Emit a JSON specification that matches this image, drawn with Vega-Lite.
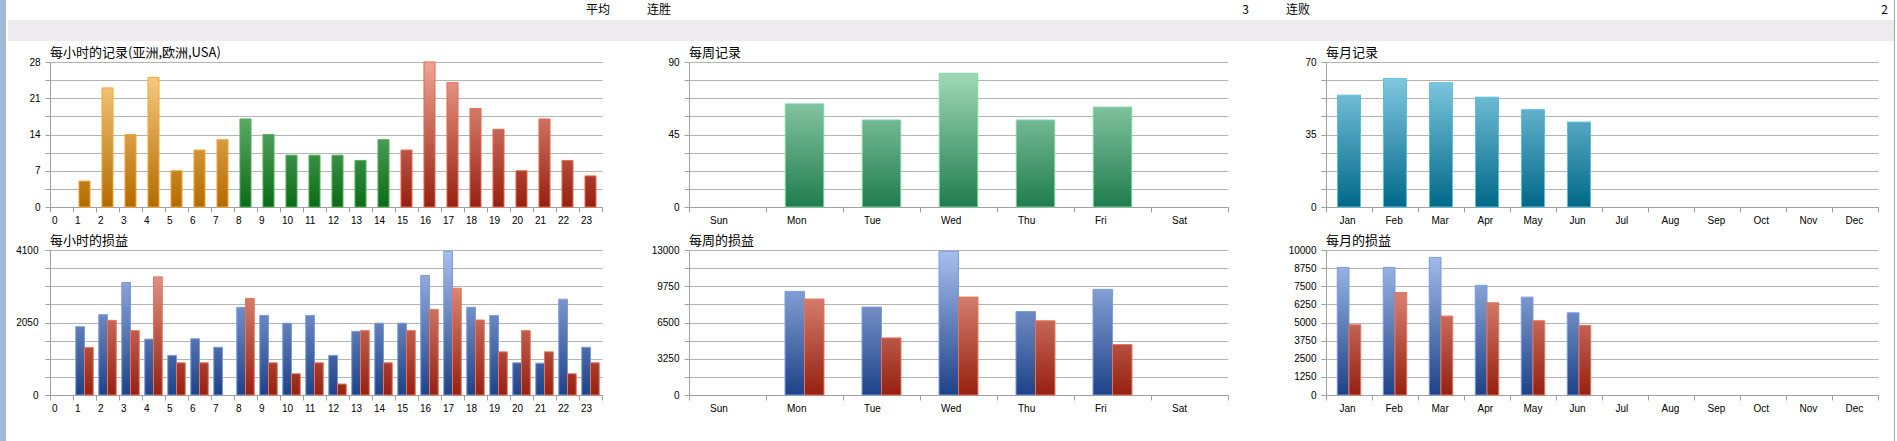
{
  "$schema": "https://vega.github.io/schema/vega-lite/v6.json",
  "padding": 0,
  "background": "#ffffff",
  "datasets": {
    "summary": [
      {"col": "c1", "key": "", "value": "平均"},
      {"col": "c2", "key": "连胜", "value": "3"},
      {"col": "c3", "key": "连败", "value": "2"}
    ],
    "hourly": [
      {"hour": 1, "region": "亚洲", "n": 5},
      {"hour": 2, "region": "亚洲", "n": 23},
      {"hour": 3, "region": "亚洲", "n": 14},
      {"hour": 4, "region": "亚洲", "n": 25},
      {"hour": 5, "region": "亚洲", "n": 7},
      {"hour": 6, "region": "亚洲", "n": 11},
      {"hour": 7, "region": "亚洲", "n": 13},
      {"hour": 8, "region": "欧洲", "n": 17},
      {"hour": 9, "region": "欧洲", "n": 14},
      {"hour": 10, "region": "欧洲", "n": 10},
      {"hour": 11, "region": "欧洲", "n": 10},
      {"hour": 12, "region": "欧洲", "n": 10},
      {"hour": 13, "region": "欧洲", "n": 9},
      {"hour": 14, "region": "欧洲", "n": 13},
      {"hour": 15, "region": "USA", "n": 11},
      {"hour": 16, "region": "USA", "n": 28},
      {"hour": 17, "region": "USA", "n": 24},
      {"hour": 18, "region": "USA", "n": 19},
      {"hour": 19, "region": "USA", "n": 15},
      {"hour": 20, "region": "USA", "n": 7},
      {"hour": 21, "region": "USA", "n": 17},
      {"hour": 22, "region": "USA", "n": 9},
      {"hour": 23, "region": "USA", "n": 6}
    ],
    "hourly_pl": [
      {"hour": 1, "series": "profit", "v": 1930}, {"hour": 1, "series": "loss", "v": 1340},
      {"hour": 2, "series": "profit", "v": 2270}, {"hour": 2, "series": "loss", "v": 2110},
      {"hour": 3, "series": "profit", "v": 3180}, {"hour": 3, "series": "loss", "v": 1820},
      {"hour": 4, "series": "profit", "v": 1580}, {"hour": 4, "series": "loss", "v": 3340},
      {"hour": 5, "series": "profit", "v": 1120}, {"hour": 5, "series": "loss", "v": 910},
      {"hour": 6, "series": "profit", "v": 1590}, {"hour": 6, "series": "loss", "v": 910},
      {"hour": 7, "series": "profit", "v": 1350},
      {"hour": 8, "series": "profit", "v": 2480}, {"hour": 8, "series": "loss", "v": 2730},
      {"hour": 9, "series": "profit", "v": 2250}, {"hour": 9, "series": "loss", "v": 910},
      {"hour": 10, "series": "profit", "v": 2030}, {"hour": 10, "series": "loss", "v": 600},
      {"hour": 11, "series": "profit", "v": 2250}, {"hour": 11, "series": "loss", "v": 910},
      {"hour": 12, "series": "profit", "v": 1120}, {"hour": 12, "series": "loss", "v": 310},
      {"hour": 13, "series": "profit", "v": 1800}, {"hour": 13, "series": "loss", "v": 1820},
      {"hour": 14, "series": "profit", "v": 2030}, {"hour": 14, "series": "loss", "v": 910},
      {"hour": 15, "series": "profit", "v": 2030}, {"hour": 15, "series": "loss", "v": 1820},
      {"hour": 16, "series": "profit", "v": 3380}, {"hour": 16, "series": "loss", "v": 2420},
      {"hour": 17, "series": "profit", "v": 4060}, {"hour": 17, "series": "loss", "v": 3020},
      {"hour": 18, "series": "profit", "v": 2480}, {"hour": 18, "series": "loss", "v": 2120},
      {"hour": 19, "series": "profit", "v": 2250}, {"hour": 19, "series": "loss", "v": 1220},
      {"hour": 20, "series": "profit", "v": 910}, {"hour": 20, "series": "loss", "v": 1820},
      {"hour": 21, "series": "profit", "v": 900}, {"hour": 21, "series": "loss", "v": 1220},
      {"hour": 22, "series": "profit", "v": 2710}, {"hour": 22, "series": "loss", "v": 600},
      {"hour": 23, "series": "profit", "v": 1350}, {"hour": 23, "series": "loss", "v": 910}
    ],
    "weekly": [
      {"day": "Mon", "n": 64},
      {"day": "Tue", "n": 54},
      {"day": "Wed", "n": 83},
      {"day": "Thu", "n": 54},
      {"day": "Fri", "n": 62}
    ],
    "weekly_pl": [
      {"day": "Mon", "series": "profit", "v": 9290}, {"day": "Mon", "series": "loss", "v": 8600},
      {"day": "Tue", "series": "profit", "v": 7880}, {"day": "Tue", "series": "loss", "v": 5120},
      {"day": "Wed", "series": "profit", "v": 12880}, {"day": "Wed", "series": "loss", "v": 8780},
      {"day": "Thu", "series": "profit", "v": 7490}, {"day": "Thu", "series": "loss", "v": 6650},
      {"day": "Fri", "series": "profit", "v": 9470}, {"day": "Fri", "series": "loss", "v": 4520}
    ],
    "monthly": [
      {"month": "Jan", "n": 54},
      {"month": "Feb", "n": 62},
      {"month": "Mar", "n": 60},
      {"month": "Apr", "n": 53},
      {"month": "May", "n": 47},
      {"month": "Jun", "n": 41}
    ],
    "monthly_pl": [
      {"month": "Jan", "series": "profit", "v": 8800}, {"month": "Jan", "series": "loss", "v": 4840},
      {"month": "Feb", "series": "profit", "v": 8800}, {"month": "Feb", "series": "loss", "v": 7070},
      {"month": "Mar", "series": "profit", "v": 9490}, {"month": "Mar", "series": "loss", "v": 5440},
      {"month": "Apr", "series": "profit", "v": 7560}, {"month": "Apr", "series": "loss", "v": 6360},
      {"month": "May", "series": "profit", "v": 6750}, {"month": "May", "series": "loss", "v": 5120},
      {"month": "Jun", "series": "profit", "v": 5670}, {"month": "Jun", "series": "loss", "v": 4790}
    ]
  },
  "spacing": 2,
  "hconcat": [
    {
      "width": 6, "height": 441,
      "data": {"name": "summary"},
      "mark": {"type": "text", "text": ""},
      "view": {"fill": "#a0b9d9", "stroke": null}
    },
    {
      "spacing": 0,
      "hconcat": [
        {
          "spacing": 6,
          "vconcat": [
            {
              "spacing": 0,
              "vconcat": [
                {
                  "width": 1886, "height": 20,
                  "data": {"name": "summary"},
                  "layer": [
                    {
                      "mark": {"type": "text", "align": "left", "baseline": "middle", "font": "Noto Sans CJK SC", "fontSize": 12, "color": "#000000"},
                      "encoding": {
                        "x": {"field": "col", "type": "nominal", "bandPosition": 0, "scale": {"type": "band", "domain": ["c1", "c2", "c3"], "range": [0, 1880], "paddingInner": 0.058, "paddingOuter": 0}, "axis": null},
                        "text": {"field": "key"}
                      }
                    },
                    {
                      "mark": {"type": "text", "align": "right", "baseline": "middle", "font": "Noto Sans CJK SC", "fontSize": 12, "color": "#000000"},
                      "encoding": {
                        "x": {"field": "col", "type": "nominal", "bandPosition": 1, "scale": {"type": "band", "domain": ["c1", "c2", "c3"], "range": [0, 1880], "paddingInner": 0.058, "paddingOuter": 0}, "axis": null},
                        "text": {"field": "value"}
                      }
                    }
                  ]
                },
                {
                  "width": 1886, "height": 21,
                  "data": {"name": "summary"},
                  "mark": {"type": "text", "text": ""},
                  "view": {"fill": "#eeeaef", "stroke": null}
                }
              ]
            },
            {
              "spacing": 22,
              "vconcat": [
                {
                  "spacing": 0,
                  "hconcat": [
                    {
                      "width": 1, "height": 1,
                      "data": {"name": "summary"},
                      "mark": {"type": "text", "text": ""}
                    },
                    {
                      "columns": 3,
                      "align": "each",
                      "spacing": {"row": 8, "column": 20},
                      "resolve": {"scale": {"stroke": "independent", "xOffset": "independent"}},
                      "concat": [
                        {
                          "width": 552, "height": 145,
                          "title": "每小时的记录(亚洲,欧洲,USA)",
                          "data": {"name": "hourly"},
                          "mark": {"type": "bar", "width": {"band": 0.48}, "strokeWidth": 1,
                            "fill": {"expr": "{gradient:'linear',x1:0,y1:1,x2:0,y2:1-28/datum.n,stops:datum.region=='亚洲'?[{offset:0,color:'#b36b00'},{offset:1,color:'#fdd38e'}]:datum.region=='欧洲'?[{offset:0,color:'#0b6b16'},{offset:1,color:'#8fd199'}]:[{offset:0,color:'#962010'},{offset:1,color:'#f0a595'}]}"}},
                          "encoding": {
                            "x": {"field": "hour", "type": "ordinal", "title": null,
                              "scale": {"domain": [0,1,2,3,4,5,6,7,8,9,10,11,12,13,14,15,16,17,18,19,20,21,22,23], "paddingInner": 0, "paddingOuter": 0},
                              "axis": {"labelAlign": "left", "labelOffset": -10}},
                            "y": {"field": "n", "type": "quantitative", "title": null,
                              "scale": {"domain": [0, 28], "nice": false},
                              "axis": {"values": [0, 3.5, 7, 10.5, 14, 17.5, 21, 24.5, 28], "format": "d", "labelExpr": "datum.value % 7 == 0 ? datum.label : ''", "minExtent": 41, "maxExtent": 41}},
                            "stroke": {"field": "region", "type": "nominal", "scale": {"domain": ["亚洲", "欧洲", "USA"], "range": ["#f5a632", "#52b05c", "#e8694c"]}, "legend": null}
                          }
                        },
                        {
                          "width": 539, "height": 145,
                          "title": "每周记录",
                          "data": {"name": "weekly"},
                          "mark": {"type": "bar", "width": {"band": 0.5}, "strokeWidth": 1, "stroke": "#80d6a6",
                            "fill": {"expr": "{gradient:'linear',x1:0,y1:1,x2:0,y2:1-90/datum.n,stops:[{offset:0,color:'#1f7d4d'},{offset:1,color:'#abe0c1'}]}"}},
                          "encoding": {
                            "x": {"field": "day", "type": "ordinal", "title": null,
                              "scale": {"domain": ["Sun", "Mon", "Tue", "Wed", "Thu", "Fri", "Sat"], "paddingInner": 0, "paddingOuter": 0},
                              "axis": {"labelAlign": "left", "labelOffset": -18}},
                            "y": {"field": "n", "type": "quantitative", "title": null,
                              "scale": {"domain": [0, 90], "nice": false},
                              "axis": {"values": [0, 11.25, 22.5, 33.75, 45, 56.25, 67.5, 78.75, 90], "format": "d", "labelExpr": "datum.value % 45 == 0 ? datum.label : ''", "minExtent": 66, "maxExtent": 66}}
                          }
                        },
                        {
                          "width": 552, "height": 145,
                          "title": "每月记录",
                          "data": {"name": "monthly"},
                          "mark": {"type": "bar", "width": {"band": 0.5}, "strokeWidth": 1, "stroke": "#5ec0e0",
                            "fill": {"expr": "{gradient:'linear',x1:0,y1:1,x2:0,y2:1-70/datum.n,stops:[{offset:0,color:'#006888'},{offset:1,color:'#90d4eb'}]}"}},
                          "encoding": {
                            "x": {"field": "month", "type": "ordinal", "title": null,
                              "scale": {"domain": ["Jan", "Feb", "Mar", "Apr", "May", "Jun", "Jul", "Aug", "Sep", "Oct", "Nov", "Dec"], "paddingInner": 0, "paddingOuter": 0},
                              "axis": {"labelAlign": "left", "labelOffset": -10}},
                            "y": {"field": "n", "type": "quantitative", "title": null,
                              "scale": {"domain": [0, 70], "nice": false},
                              "axis": {"values": [0, 8.75, 17.5, 26.25, 35, 43.75, 52.5, 61.25, 70], "format": "d", "labelExpr": "datum.value % 35 == 0 ? datum.label : ''", "minExtent": 77, "maxExtent": 77}}
                          }
                        },
                        {
                          "width": 552, "height": 145,
                          "title": "每小时的损益",
                          "data": {"name": "hourly_pl"},
                          "mark": {"type": "bar", "strokeWidth": 1,
                            "fill": {"expr": "{gradient:'linear',x1:0,y1:1,x2:0,y2:1-4100/datum.v,stops:datum.series=='profit'?[{offset:0,color:'#1e4288'},{offset:1,color:'#a8c0ee'}]:[{offset:0,color:'#952010'},{offset:1,color:'#f2aa9a'}]}"}},
                          "encoding": {
                            "x": {"field": "hour", "type": "ordinal", "title": null,
                              "scale": {"domain": [0,1,2,3,4,5,6,7,8,9,10,11,12,13,14,15,16,17,18,19,20,21,22,23], "paddingInner": 0, "paddingOuter": 0},
                              "axis": {"labelAlign": "left", "labelOffset": -10}},
                            "xOffset": {"field": "series", "type": "nominal", "scale": {"domain": ["profit", "loss"], "paddingInner": 0, "paddingOuter": 0.316}},
                            "y": {"field": "v", "type": "quantitative", "title": null,
                              "scale": {"domain": [0, 4100], "nice": false},
                              "axis": {"values": [0, 512.5, 1025, 1537.5, 2050, 2562.5, 3075, 3587.5, 4100], "format": "d", "labelExpr": "datum.value % 2050 == 0 ? datum.label : ''", "labelPadding": 7, "minExtent": 41, "maxExtent": 41}},
                            "stroke": {"field": "series", "type": "nominal", "scale": {"domain": ["profit", "loss"], "range": ["#7b9be0", "#e8735a"]}, "legend": null}
                          }
                        },
                        {
                          "width": 539, "height": 145,
                          "title": "每周的损益",
                          "data": {"name": "weekly_pl"},
                          "mark": {"type": "bar", "strokeWidth": 1,
                            "fill": {"expr": "{gradient:'linear',x1:0,y1:1,x2:0,y2:1-13000/datum.v,stops:datum.series=='profit'?[{offset:0,color:'#1e4288'},{offset:1,color:'#a8c0ee'}]:[{offset:0,color:'#952010'},{offset:1,color:'#f2aa9a'}]}"}},
                          "encoding": {
                            "x": {"field": "day", "type": "ordinal", "title": null,
                              "scale": {"domain": ["Sun", "Mon", "Tue", "Wed", "Thu", "Fri", "Sat"], "paddingInner": 0, "paddingOuter": 0},
                              "axis": {"labelAlign": "left", "labelOffset": -18}},
                            "xOffset": {"field": "series", "type": "nominal", "scale": {"domain": ["profit", "loss"], "paddingInner": 0, "paddingOuter": 0.975}},
                            "y": {"field": "v", "type": "quantitative", "title": null,
                              "scale": {"domain": [0, 13000], "nice": false},
                              "axis": {"values": [0, 1625, 3250, 4875, 6500, 8125, 9750, 11375, 13000], "format": "d", "labelExpr": "datum.value % 3250 == 0 ? datum.label : ''", "minExtent": 66, "maxExtent": 66}},
                            "stroke": {"field": "series", "type": "nominal", "scale": {"domain": ["profit", "loss"], "range": ["#7b9be0", "#e8735a"]}, "legend": null}
                          }
                        },
                        {
                          "width": 552, "height": 145,
                          "title": "每月的损益",
                          "data": {"name": "monthly_pl"},
                          "mark": {"type": "bar", "strokeWidth": 1,
                            "fill": {"expr": "{gradient:'linear',x1:0,y1:1,x2:0,y2:1-10000/datum.v,stops:datum.series=='profit'?[{offset:0,color:'#1e4288'},{offset:1,color:'#a8c0ee'}]:[{offset:0,color:'#952010'},{offset:1,color:'#f2aa9a'}]}"}},
                          "encoding": {
                            "x": {"field": "month", "type": "ordinal", "title": null,
                              "scale": {"domain": ["Jan", "Feb", "Mar", "Apr", "May", "Jun", "Jul", "Aug", "Sep", "Oct", "Nov", "Dec"], "paddingInner": 0, "paddingOuter": 0},
                              "axis": {"labelAlign": "left", "labelOffset": -10}},
                            "xOffset": {"field": "series", "type": "nominal", "scale": {"domain": ["profit", "loss"], "paddingInner": 0, "paddingOuter": 0.96}},
                            "y": {"field": "v", "type": "quantitative", "title": null,
                              "scale": {"domain": [0, 10000], "nice": false},
                              "axis": {"values": [0, 1250, 2500, 3750, 5000, 6250, 7500, 8750, 10000], "format": "d", "minExtent": 77, "maxExtent": 77}},
                            "stroke": {"field": "series", "type": "nominal", "scale": {"domain": ["profit", "loss"], "range": ["#7b9be0", "#e8735a"]}, "legend": null}
                          }
                        }
                      ]
                    }
                  ]
                },
                {
                  "width": 1886, "height": 1,
                  "data": {"name": "summary"},
                  "mark": {"type": "text", "text": ""},
                  "view": {"fill": "#d6d6d6", "stroke": null}
                }
              ]
            }
          ]
        },
        {
          "width": 1, "height": 441,
          "data": {"name": "summary"},
          "mark": {"type": "text", "text": ""},
          "view": {"fill": "#a8a8a8", "stroke": null}
        }
      ]
    }
  ],
  "config": {
    "view": {"stroke": null},
    "axis": {
      "labelFont": "Liberation Sans",
      "labelFontSize": 10,
      "labelColor": "#000000",
      "domainColor": "#a0a0a0",
      "tickColor": "#a0a0a0",
      "gridColor": "#b4b4b4",
      "tickSize": 5,
      "labelOverlap": false,
      "labelFlush": false
    },
    "axisX": {"labelAngle": 0, "tickBand": "extent", "grid": false, "labelPadding": 3, "minExtent": 20, "maxExtent": 20},
    "axisY": {"labelPadding": 5, "grid": true},
    "title": {"font": "Noto Sans CJK SC", "fontSize": 13, "fontWeight": "normal", "color": "#000000", "anchor": "start", "frame": "group", "offset": -3}
  }
}
